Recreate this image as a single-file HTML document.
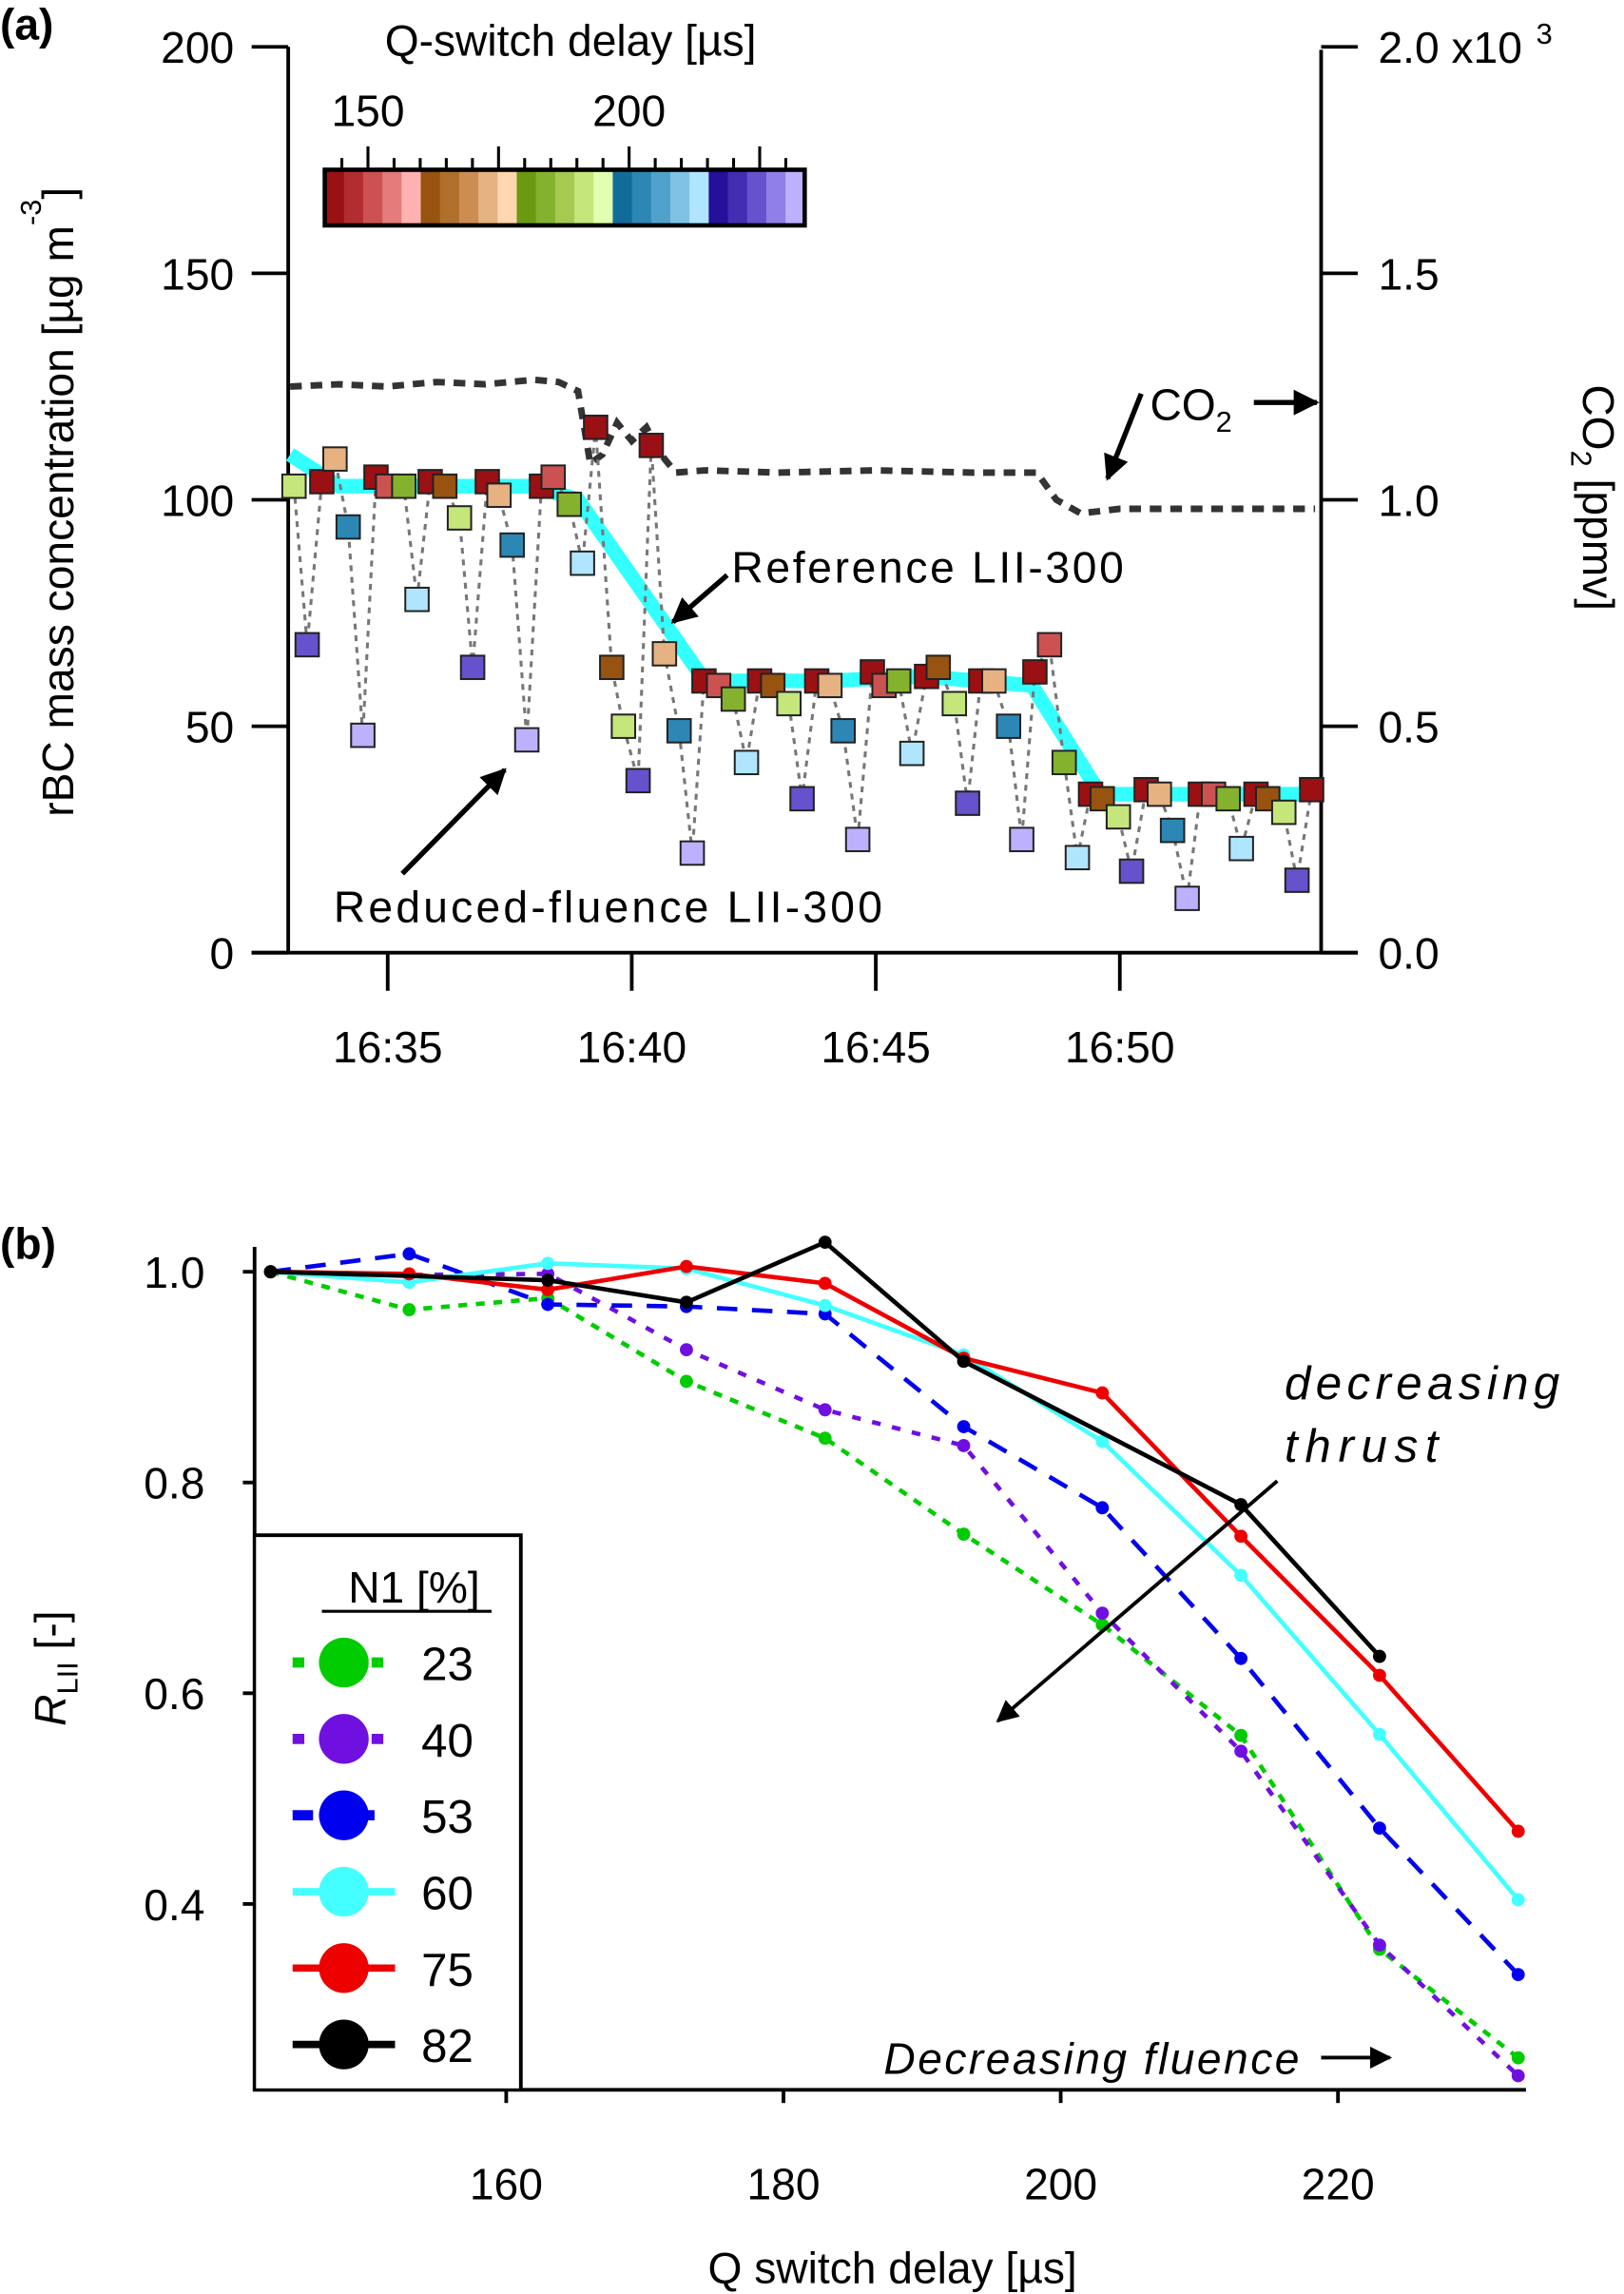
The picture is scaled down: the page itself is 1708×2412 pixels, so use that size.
<!DOCTYPE html>
<html><head><meta charset="utf-8"><style>
html,body{margin:0;padding:0;background:#fff;}
svg{display:block;font-family:"Liberation Sans",sans-serif;}
</style></head><body>
<svg id="fig" width="1708" height="2412" viewBox="0 0 1110 1567.5" xmlns="http://www.w3.org/2000/svg">
<rect width="1110" height="1567.5" fill="#fff"/>
<g id="pa"></g>
<g id="pb"></g>
</svg>
<script>
// ---------- Panel (a) data ----------
const aTimes = [33.08,33.35,33.65,33.92,34.19,34.49,34.76,35.00,35.33,35.60,35.87,36.17,36.47,36.74,37.04,37.28,37.55,37.85,38.15,38.39,38.72,38.99,39.26,39.59,39.83,40.13,40.40,40.67,40.97,41.24,41.48,41.78,42.08,42.35,42.62,42.89,43.22,43.49,43.79,44.06,44.33,44.63,44.93,45.17,45.47,45.74,46.04,46.28,46.61,46.88,47.15,47.42,47.72,47.99,48.26,48.56,48.86,49.13,49.40,49.64,49.97,50.24,50.54,50.81,51.08,51.38,51.65,51.92,52.22,52.49,52.79,53.03,53.36,53.63,53.93];
const aValues = [103,68,104,109,94,48,105,103,103,78,104,103,96,63,104,101,90,47,103,105,99,86,116,63,50,38,112,66,49,22,60,59,56,42,60,59,55,34,60,59,49,25,62,59,60,44,61,63,55,33,60,60,50,25,62,68,42,21,35,34,30,18,36,35,27,12,35,35,34,23,35,34,31,16,36];
const aCodes = "gPRTUpRrGuRBgPRTUpRrGuRBgPRTUpRrGuRBgPRTUpRrGuRBgPRTUpRrGuRBgPRTUpRrGuRBgPR";
const refTimes = [33.0,34.0,36.0,38.0,38.9,41.5,44.0,46.0,48.2,49.6,54.0];
const refValues = [110,103,103,103,100,60,60,61,59,35,35];
const co2Times = [33.0,34.0,35.0,36.0,37.0,38.0,38.5,38.9,39.15,39.4,39.7,40.0,40.3,40.6,40.9,41.5,43.0,45.0,47.0,48.3,48.7,49.2,50.0,52.0,54.0];
const co2Values = [1.25,1.255,1.25,1.26,1.255,1.265,1.26,1.24,1.08,1.10,1.17,1.13,1.16,1.10,1.06,1.065,1.06,1.065,1.06,1.06,1.0,0.97,0.98,0.98,0.98];
const leftTicks = [0,50,100,150,200];
const rightTicks = ["0.0","0.5","1.0","1.5","2.0"];
const timeTicks = [35,40,45,50];
const timeLabels = ["16:35","16:40","16:45","16:50"];
const cbColors = ["#9b1013","#b22d30","#cc5252","#e47c7c","#feb1b1","#97530f","#b0702c","#cd8d52","#e6b281","#fed7b0","#6b9a10","#84b22e","#a6c951","#c4e67b","#e2feb0","#116c9b","#2d87b5","#50a2cc","#7fc2e6","#b0e5fe","#24109b","#432db2","#6552cc","#8f7fe6","#bdb1fe"];
const codeIndex = {R:0,r:2,B:5,T:8,G:11,g:13,U:16,u:19,P:22,p:24};

// ---------- Panel (b) data ----------
const delays = [143,153,163,173,183,193,203,213,223,233];
const n1Labels = ["23","40","53","60","75","82"];
const s23 = [1.0,0.964,0.975,0.896,0.842,0.751,0.665,0.56,0.357,0.254];
const s40 = [1.0,0.997,0.998,0.926,0.869,0.835,0.676,0.545,0.361,0.237];
const s53 = [1.0,1.017,0.969,0.967,0.96,0.853,0.776,0.633,0.472,0.333];
const s60 = [1.0,0.99,1.008,1.003,0.968,0.921,0.839,0.712,0.561,0.404];
const s75 = [1.0,0.998,0.983,1.005,0.989,0.918,0.885,0.749,0.617,0.469];
const s82 = [1.0,null,0.992,0.971,1.028,0.915,null,0.779,0.635,null];
const bYTicks = [0.4,0.6,0.8,1.0];
const bXTicks = [160,180,200,220];

const NS="http://www.w3.org/2000/svg";
function mk(parent,tag,attrs,text){const e=document.createElementNS(NS,tag);for(const k in attrs)e.setAttribute(k,attrs[k]);if(text!==undefined)e.textContent=text;parent.appendChild(e);return e;}

// axes (a)
const xa=t=>265+(t-35)*33.36;
const ya=v=>651-v*3.095;
const yc=c=>651-c*309.5;
const pa=document.getElementById('pa');

let t=mk(pa,'text',{x:0,y:27,'font-size':30,'font-weight':'bold'},'(a)');



let ax=mk(pa,'g',{stroke:'#000','stroke-width':2.5});


mk(ax,'line',{x1:197,y1:32,x2:197,y2:652});
leftTicks.forEach(v=>{
  mk(ax,'line',{x1:172,y1:ya(v),x2:197,y2:ya(v)});
  const l=mk(pa,'text',{x:160,y:ya(v)+11,'font-size':30,'text-anchor':'end'},String(v));
  
  
});
let rx=mk(pa,'g',{stroke:'#000','stroke-width':2.5});


mk(rx,'line',{x1:903,y1:34,x2:903,y2:652});
rightTicks.forEach((s,i)=>{
  const c=i*0.5; const yy=yc(c);
  mk(rx,'line',{x1:903,y1:yy,x2:928,y2:yy});
  const l=mk(pa,'text',{x:942,y:yy+11,'font-size':30},s+(i===4?' x10':''));
  
  
});
t=mk(pa,'text',{x:1050,y:30,'font-size':20},'3');


let bx=mk(pa,'g',{stroke:'#000','stroke-width':2.5});


mk(bx,'line',{x1:172,y1:651,x2:928,y2:651});
timeTicks.forEach((tt,i)=>{
  mk(bx,'line',{x1:xa(tt),y1:651,x2:xa(tt),y2:677});
  const l=mk(pa,'text',{x:xa(tt),y:726,'font-size':30,'text-anchor':'middle'},timeLabels[i]);
  
  
});
t=mk(pa,'text',{transform:'translate(50,343) rotate(-90)','font-size':30,'text-anchor':'middle'});
t.innerHTML='rBC mass concentration [µg m<tspan font-size="20" dy="-22">-3</tspan><tspan dy="22">]</tspan>';


t=mk(pa,'text',{transform:'translate(1082,340) rotate(90)','font-size':30,'text-anchor':'middle'});
t.innerHTML='CO<tspan font-size="20" dy="8">2</tspan><tspan dy="-8"> [ppmv]</tspan>';



// colorbar
let cb=mk(pa,'g',{});


const cbL=222,cbR=550,sw=(cbR-cbL)/cbColors.length;
cbColors.forEach((c,i)=>{mk(cb,'rect',{x:cbL+i*sw,y:116,width:sw+0.4,height:38,fill:c});});
mk(cb,'rect',{x:cbL,y:116,width:cbR-cbL,height:38,fill:'none',stroke:'#000','stroke-width':3});
const xcb=d=>251.5+(d-150)*3.57;
for(let d=145;d<=230;d+=5){const major=(d%25===0);mk(cb,'line',{x1:xcb(d),y1:116,x2:xcb(d),y2:major?100:108,stroke:'#000','stroke-width':2});}
[[150,'150'],[200,'200']].forEach(p=>{const l=mk(pa,'text',{x:xcb(p[0]),y:86,'font-size':30,'text-anchor':'middle'},p[1]);});
t=mk(pa,'text',{x:390,y:38,'font-size':30,'text-anchor':'middle'},'Q-switch delay [µs]');



let ref=mk(pa,'polyline',{points:refTimes.map((tt,i)=>xa(tt)+','+ya(refValues[i])).join(' '),fill:'none',stroke:'#33ffff','stroke-width':10,'stroke-linejoin':'miter'});


let co2=mk(pa,'polyline',{points:co2Times.map((tt,i)=>xa(tt)+','+yc(co2Values[i])).join(' '),fill:'none',stroke:'#333','stroke-width':4.5,'stroke-dasharray':'8,6'});


let conn=mk(pa,'polyline',{points:aTimes.map((tt,i)=>xa(tt)+','+ya(aValues[i])).join(' '),fill:'none',stroke:'#777','stroke-width':2,'stroke-dasharray':'4,4'});


aTimes.forEach((tt,i)=>{
  const c=cbColors[codeIndex[aCodes[i]]];
  const r=mk(pa,'rect',{x:xa(tt)-8,y:ya(aValues[i])-8,width:16,height:16,fill:c,stroke:'#222','stroke-width':1.3});
  
  
});
mk(pa,'defs',{}).innerHTML='<marker id="ah" viewBox="0 0 10 10" refX="9" refY="5" markerWidth="5" markerHeight="5" orient="auto"><path d="M0,0 L10,5 L0,10 z" fill="#000"/></marker>';
function arrow(x1,y1,x2,y2,name){const l=mk(pa,'line',{x1,y1,x2,y2,stroke:'#000','stroke-width':3.5,'marker-end':'url(#ah)'});}
t=mk(pa,'text',{x:786,y:287,'font-size':30});
t.innerHTML='CO<tspan font-size="20" dy="8">2</tspan>';


arrow(857,275,900,275,'co2-right-arrow');
arrow(780,269,757,327,'co2-line-arrow');
t=mk(pa,'text',{x:500,y:398,'font-size':30,textLength:268},'Reference LII-300');


arrow(497,393,460,425,'reference-arrow');
t=mk(pa,'text',{x:228,y:630,'font-size':30,textLength:375},'Reduced-fluence LII-300');


arrow(275,597,345,526,'reduced-fluence-arrow');

// ---------- Panel (b) ----------
const pb=document.getElementById('pb');
const xb=d=>346+(d-160)*9.475;
const yb=r=>869+(1-r)*720;
t=mk(pb,'text',{x:0,y:860,'font-size':30,'font-weight':'bold'},'(b)');


let bax=mk(pb,'g',{stroke:'#000','stroke-width':2.5});


mk(bax,'line',{x1:174,y1:852,x2:174,y2:1429});
mk(bax,'line',{x1:173,y1:1428,x2:1043,y2:1428});
bYTicks.forEach(v=>{
  mk(bax,'line',{x1:166,y1:yb(v),x2:174,y2:yb(v)});
  const l=mk(pb,'text',{x:140,y:yb(v)+11,'font-size':30,'text-anchor':'end'},v.toFixed(1));
  
  
});
bXTicks.forEach(d=>{
  mk(bax,'line',{x1:xb(d),y1:1428,x2:xb(d),y2:1437});
  const l=mk(pb,'text',{x:xb(d),y:1503,'font-size':30,'text-anchor':'middle'},String(d));
  
  
});
t=mk(pb,'text',{x:610,y:1560,'font-size':30,'text-anchor':'middle'},'Q switch delay [µs]');


t=mk(pb,'text',{transform:'translate(45,1140) rotate(-90)','font-size':30,'text-anchor':'middle'});
t.innerHTML='<tspan font-style="italic">R</tspan><tspan font-size="20" dy="8">LII</tspan><tspan dy="-8"> [-]</tspan>';



const seriesVals=[s23,s40,s53,s60,s75,s82];
const seriesColors=['#00cc00','#7010e0','#0000ee','#44ffff','#ee0000','#000000'];
const seriesDash=['6,6','6,8','14,10','','',''];
seriesVals.forEach((vals,si)=>{
  const g=mk(pb,'g',{});
  
  
  const pts=[];
  vals.forEach((v,i)=>{if(v!==null)pts.push(xb(delays[i])+','+yb(v));});
  const attrs={points:pts.join(' '),fill:'none',stroke:seriesColors[si],'stroke-width':3};
  if(seriesDash[si])attrs['stroke-dasharray']=seriesDash[si];
  const pl=mk(g,'polyline',attrs);
  
  
  vals.forEach((v,i)=>{if(v===null)return;
    const c=mk(g,'circle',{cx:xb(delays[i]),cy:yb(v),r:4.5,fill:seriesColors[si]});
    
    
  });
});
let lg=mk(pb,'g',{});


mk(lg,'rect',{x:175,y:1050,width:181,height:377,fill:'#fff'});
mk(lg,'polyline',{points:'174,1049 356,1049 356,1428',fill:'none',stroke:'#000','stroke-width':2.5});
t=mk(lg,'text',{x:283,y:1095,'font-size':30,'text-anchor':'middle'},'N1 [%]');


mk(lg,'line',{x1:220,y1:1101,x2:336,y2:1101,stroke:'#000','stroke-width':2});
n1Labels.forEach((lab,i)=>{
  const yy=1136+i*52.2;
  const e=mk(lg,'g',{});
  
  
  const a={x1:200,y1:yy,x2:270,y2:yy,stroke:seriesColors[i],'stroke-width':seriesDash[i]?7:5};
  if(seriesDash[i])a['stroke-dasharray']=i===2?'14,34,8':'8,46,8';
  mk(e,'line',a);
  mk(e,'circle',{cx:235,cy:yy,r:17,fill:seriesColors[i]});
  mk(e,'text',{x:288,y:yy+12,'font-size':32},lab);
});
mk(pb,'defs',{}).innerHTML='<marker id="ah2" viewBox="0 0 10 10" refX="9" refY="5" markerWidth="6" markerHeight="6" orient="auto"><path d="M0,0 L10,5 L0,10 z" fill="#000"/></marker>';
t=mk(pb,'text',{x:878,y:956,'font-size':32,'font-style':'italic',textLength:188},'decreasing');


t=mk(pb,'text',{x:878,y:999,'font-size':32,'font-style':'italic',textLength:105},'thrust');


let ar=mk(pb,'line',{x1:873,y1:1012,x2:682,y2:1176,stroke:'#000','stroke-width':2.5,'marker-end':'url(#ah2)'});


t=mk(pb,'text',{x:604,y:1417,'font-size':30,'font-style':'italic',textLength:284},'Decreasing fluence');


ar=mk(pb,'line',{x1:903,y1:1406,x2:950,y2:1406,stroke:'#000','stroke-width':2.5,'marker-end':'url(#ah2)'});


</script>
</body></html>
